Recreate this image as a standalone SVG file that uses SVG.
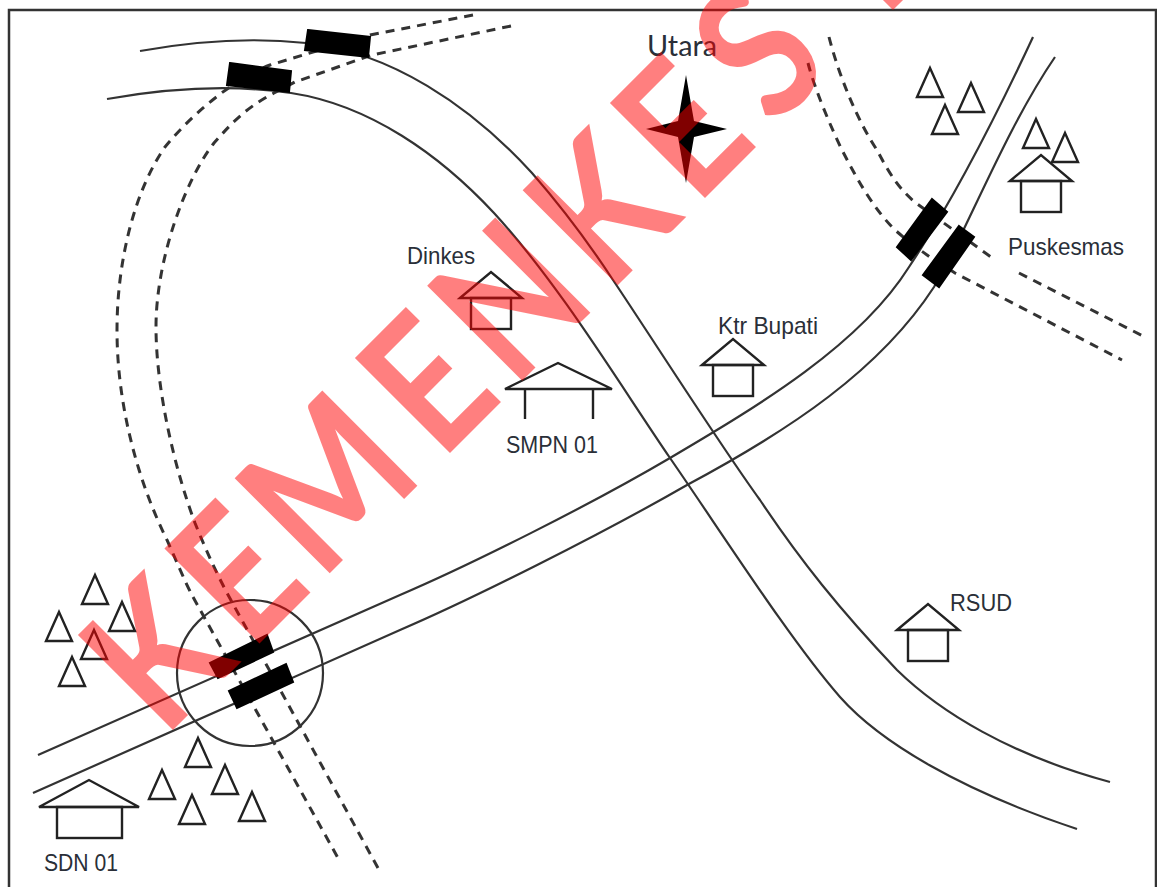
<svg xmlns="http://www.w3.org/2000/svg" width="1157" height="887" viewBox="0 0 1157 887">
<style>
.r{fill:none;stroke:#333;stroke-width:2.2}
.d{fill:none;stroke:#333;stroke-width:3;stroke-dasharray:9 7}
.k{fill:#000}
.b{fill:#000;stroke:#000;stroke-width:2}
.s{fill:none;stroke:#222;stroke-width:2.4;stroke-linejoin:miter}
.t{font-family:"Liberation Sans",Arial,sans-serif;font-size:24px;fill:#2a2f38}
.w{font-family:Lato,"Liberation Sans",sans-serif;font-weight:700;font-size:186px;fill:#ff0000;fill-opacity:.5}
</style>
<defs>
<polygon id="tri" class="s" points="0,0 13,29 -13,29"/>
<g id="house"><path class="s" d="M-31,26 L0,0 L31,26 Z"/><rect class="s" x="-20" y="26" width="40" height="31"/></g>
</defs>
<rect width="1157" height="887" fill="#fff"/>
<path id="frame" fill="none" stroke="#333" stroke-width="2.5" d="M9,887 V10 H1156 V887"/>
<g id="connectors">
<path class="r" d="M140,51 C190,42 250,37 306,43 C390,52 470,105 532,173 C560,205 590,245 613,280 C650,335 720,445 760,500 C800,560 840,610 897,670 C940,712 1010,755 1110,782"/>
<path class="r" d="M107,99 C170,88 230,84 291,93 C370,105 440,155 494,213 C560,285 620,385 670,458 C720,530 790,640 840,697 C880,742 960,790 1077,829"/>
<path class="r" d="M38,755 L400,595 C470,565 590,505 670,458 C760,405 860,345 909,267 C940,220 985,140 1033,37"/>
<path class="r" d="M33,793 L400,630 C470,600 600,535 687,485 C790,430 880,370 934,287 C965,235 1005,130 1055,57"/>
<path class="d" d="M473,15 L370,35 L270,65 C240,76 197,108 165,147 C135,190 117,260 117,330 C117,400 135,475 167,540 C176,560 185,582 193,597 L338,858"/>
<path class="d" d="M511,26 L372,55 L295,82 L274,93 C245,108 230,125 214,143 C185,180 156,260 156,327 C156,390 175,470 195,523 C205,548 215,570 227,593 L378,868"/>
<path class="d" d="M829,37 C840,80 860,125 877,150 C890,175 900,190 916,203 L991,257"/>
<path class="d" d="M1019,273 L1145,337"/>
<path class="d" d="M808,63 C815,90 830,125 842,150 C860,185 875,210 895,230 C910,243 920,250 930,257 L955,273 L1122,360"/>
<circle class="r" cx="250" cy="673" r="73"/>
<polygon class="b" points="308,30 370,37 368,57 305,50"/>
<polygon class="b" points="230,63 291,71 289,92 227,85"/>
<polygon class="b" points="932,199 947,212 911,260 897,247"/>
<polygon class="b" points="959,226 974,237 939,287 923,275"/>
<polygon class="b" points="267,635 273,652 218,678 210,663"/>
<polygon class="b" points="286,664 293,682 237,708 229,691"/>
</g>
<g id="north">
<path class="k" d="M686,75 L694,121 L727,129 L694,137 L686,183 L678,137 L646,129 L678,121 Z"/>
<text class="t" style="font-family:Lato,sans-serif;font-size:28px" x="647" y="56" textLength="70" lengthAdjust="spacingAndGlyphs">Utara</text>
</g>
<g id="puskesmas"><use href="#house" x="1041" y="155"/><text class="t" x="1008" y="255" textLength="116" lengthAdjust="spacingAndGlyphs">Puskesmas</text></g>
<g id="ktr-bupati"><use href="#house" x="733" y="339"/><text class="t" x="718" y="334" textLength="100" lengthAdjust="spacingAndGlyphs">Ktr Bupati</text></g>
<g id="dinkes"><use href="#house" x="491" y="272"/><text class="t" x="407" y="264" textLength="68" lengthAdjust="spacingAndGlyphs">Dinkes</text></g>
<g id="smpn"><path class="s" d="M505,389 L558,363 L612,389 Z M525,389 V419 M593,389 V419"/><text class="t" x="506" y="453" textLength="92" lengthAdjust="spacingAndGlyphs">SMPN 01</text></g>
<g id="rsud"><use href="#house" x="928" y="604"/><text class="t" x="950" y="611" textLength="62" lengthAdjust="spacingAndGlyphs">RSUD</text></g>
<g id="sdn"><path class="s" d="M39,807 L89,780 L139,807 Z"/><rect class="s" x="57" y="807" width="65" height="31"/><text class="t" x="44" y="871" textLength="74" lengthAdjust="spacingAndGlyphs">SDN 01</text></g>
<g id="trees-ne">
<use href="#tri" x="930" y="68"/><use href="#tri" x="971" y="83"/><use href="#tri" x="945" y="105"/><use href="#tri" x="1036" y="119"/><use href="#tri" x="1065" y="133"/>
</g>
<g id="trees-w">
<use href="#tri" x="95" y="575"/><use href="#tri" x="122" y="602"/><use href="#tri" x="59" y="612"/><use href="#tri" x="94" y="630"/><use href="#tri" x="72" y="657"/>
</g>
<g id="trees-s">
<use href="#tri" x="198" y="738"/><use href="#tri" x="162" y="770"/><use href="#tri" x="225" y="765"/><use href="#tri" x="192" y="795"/><use href="#tri" x="252" y="792"/>
</g>
<text id="watermark" class="w" transform="translate(164,739) rotate(-45) scale(.85,1)" x="0 144 261 461 581 740 885 1015">KEMENKES<tspan x="1198">R</tspan></text>
</svg>
